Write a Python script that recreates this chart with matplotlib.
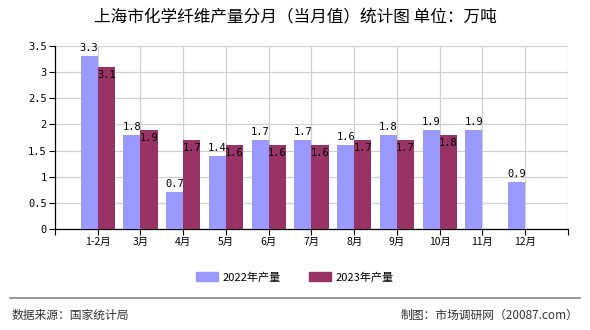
import numpy as np
import matplotlib
matplotlib.use("Agg")
import matplotlib.pyplot as plt
from matplotlib.patches import Rectangle
from matplotlib.lines import Line2D

plt.rcParams['font.family'] = ['Noto Sans CJK SC', 'DejaVu Sans']

months = ['1-2月', '3月', '4月', '5月', '6月', '7月', '8月', '9月', '10月', '11月', '12月']
v2022 = [3.3, 1.8, 0.7, 1.4, 1.7, 1.7, 1.6, 1.8, 1.9, 1.9, 0.9]
v2023 = [3.1, 1.9, 1.7, 1.6, 1.6, 1.6, 1.7, 1.7, 1.8]
yticks = [0, 0.5, 1, 1.5, 2, 2.5, 3, 3.5]
ytick_labels = ['0', '0.5', '1', '1.5', '2', '2.5', '3', '3.5']
c2022 = '#9999FF'
c2023 = '#993366'

fig = plt.figure(figsize=(5.9, 3.3), dpi=100)
ax = fig.add_axes([0.0932, 0.306, 0.8695, 0.5546])

x = np.arange(len(months))
w = 0.4
ax.bar(x[:len(v2022)] - w / 2, v2022, w, color=c2022, zorder=3)
ax.bar(x[:len(v2023)] + w / 2, v2023, w, color=c2023, zorder=3)

num_font = dict(family='DejaVu Sans Mono', fontsize=7.5, color='black')
for xi, v in zip(x, v2022):
    ax.text(xi - w / 2, v + 0.06, f'{v:.1f}', ha='center', va='bottom', zorder=4, **num_font)
for xi, v in zip(x, v2023):
    ax.text(xi + w / 2, v - 0.06, f'{v:.1f}', ha='center', va='top', zorder=4, **num_font)

n = len(months)
ax.set_xlim(-1, n)
ax.set_ylim(0, 3.5)
ax.set_yticks(yticks)
ax.set_yticklabels(ytick_labels, family='DejaVu Sans Mono', fontsize=7.5)
ax.set_xticks(list(x) + [n])
ax.set_xticklabels(months + [''], fontsize=7.5)
ax.set_xticks([-1], minor=True)
ax.tick_params(axis='both', which='both', direction='out', length=4, width=0.8, pad=2)
ax.grid(True, color='#d0d0d0', linewidth=0.9, zorder=0)
for s in ['top', 'right']:
    ax.spines[s].set_visible(False)
ax.spines['left'].set_linewidth(0.9)
ax.spines['bottom'].set_linewidth(0.9)

fig.text(0.5, 0.945, '上海市化学纤维产量分月（当月值）统计图 单位：万吨',
         ha='center', va='center', fontsize=12)

handles = [Rectangle((0, 0), 1, 1, color=c2022), Rectangle((0, 0), 1, 1, color=c2023)]
fig.legend(handles, ['2022年产量', '2023年产量'], loc='center', bbox_to_anchor=(0.5, 0.16),
           ncol=2, frameon=False, fontsize=8, handlelength=2.0, handleheight=0.8,
           columnspacing=2.5, handletextpad=0.4)

fig.add_artist(Line2D([0.017, 0.983], [0.098, 0.098], color='#888888', linewidth=1.2))
fig.text(0.02, 0.045, '数据来源：国家统计局', ha='left', va='center', fontsize=8.5, color='#333333')
fig.text(0.98, 0.045, '制图：市场调研网（20087.com）', ha='right', va='center', fontsize=8.5, color='#333333')

fig.savefig('out.png', dpi=100)
